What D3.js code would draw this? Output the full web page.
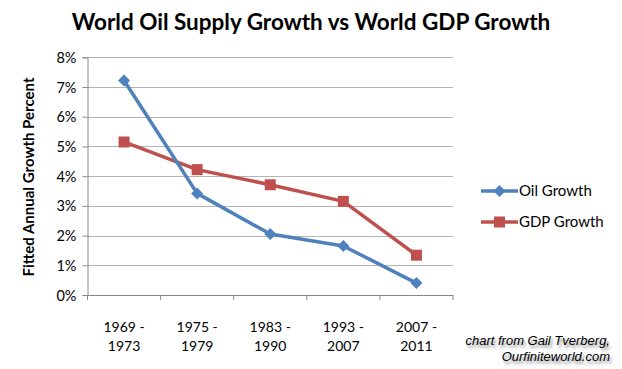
<!DOCTYPE html>
<html><head><meta charset="utf-8">
<script src="https://cdn.jsdelivr.net/npm/d3@7"></script>
<style>body{margin:0;background:#fff}svg{display:block}</style>
</head><body>
<svg id="c" width="622" height="369"></svg>
<script>
const categories = [["1969 -","1973"],["1975 -","1979"],["1983 -","1990"],["1993 -","2007"],["2007 -","2011"]];
const oilGrowth = [7.22, 3.42, 2.05, 1.65, 0.40];
const gdpGrowth = [5.15, 4.22, 3.71, 3.15, 1.34];
const yTicks = [0,1,2,3,4,5,6,7,8];
const seriesNames = ["Oil Growth","GDP Growth"];

const svg = d3.select("#c");
const font = "Lato, 'Open Sans', sans-serif";
const x0 = 87.5, x1 = 453, yTop = 57.3, yBot = 295;
const x = d3.scaleBand().domain(d3.range(categories.length)).range([x0, x1]);
const y = d3.scaleLinear().domain([0,8]).range([yBot, yTop]);
const cx = i => x(i) + x.bandwidth()/2;

// title
svg.append("text").attr("x", 311).attr("y", 30).attr("text-anchor","middle")
  .attr("font-family", font).attr("font-weight","bold").attr("font-size", 22.5).attr("fill","#000")
  .text("World Oil Supply Growth vs World GDP Growth");

// gridlines
svg.append("g").selectAll("line").data(yTicks.filter(d=>d>0)).join("line")
  .attr("x1", x0).attr("x2", x1).attr("y1", d=>Math.round(y(d))+0.5).attr("y2", d=>Math.round(y(d))+0.5)
  .attr("stroke","#b3b3b3").attr("stroke-width",1);

// y axis
const yAxis = d3.axisLeft(y).tickValues(yTicks).tickFormat(d=>d+"%").tickSize(5).tickPadding(6);
const gy = svg.append("g").attr("transform",`translate(${x0},0)`).call(yAxis);
gy.select(".domain").attr("stroke","#8a8a8a");
gy.selectAll(".tick line").attr("stroke","#8a8a8a");
gy.selectAll("text").attr("font-family", font).attr("font-size", 14.5).attr("fill","#000").attr("dy","0.35em");

// x axis
const xAxis = d3.axisBottom(x).tickSize(0).tickFormat("");
const gx = svg.append("g").attr("transform",`translate(0,${yBot})`).call(xAxis);
gx.select(".domain").attr("stroke","#8a8a8a");
gx.selectAll(".tick").remove();
const bounds = d3.range(categories.length+1).map(i => i < categories.length ? x(i) : x1);
gx.selectAll("line.tk").data(bounds).join("line").attr("class","tk")
  .attr("x1", d=>d).attr("x2", d=>d).attr("y1",0).attr("y2",5).attr("stroke","#8a8a8a");
const xl = svg.append("g").selectAll("text").data(categories).join("text")
  .attr("x",(d,i)=>cx(i)).attr("y",332).attr("text-anchor","middle")
  .attr("font-family", font).attr("font-size", 14).attr("fill","#000");
xl.append("tspan").attr("x",(d,i)=>cx(i)).text(d=>d[0]);
xl.append("tspan").attr("x",(d,i)=>cx(i)).attr("dy",19).text(d=>d[1]);

// y title
svg.append("text").attr("transform","translate(34,177) rotate(-90)").attr("text-anchor","middle")
  .attr("font-family", font).attr("font-weight","bold").attr("font-size", 15).attr("fill","#000")
  .text("Fitted Annual Growth Percent");

const blue = "#4F81BD", red = "#C0504D";
const line = d3.line().x((d,i)=>cx(i)).y(d=>y(d));
svg.append("path").datum(gdpGrowth).attr("d", line).attr("fill","none").attr("stroke",red).attr("stroke-width",3.5).attr("stroke-linejoin","round");
svg.append("path").datum(oilGrowth).attr("d", line).attr("fill","none").attr("stroke",blue).attr("stroke-width",3.5).attr("stroke-linejoin","round");

const sq = d3.symbol().type(d3.symbolSquare).size(121);
const dia = d3.symbol().type(d3.symbolSquare).size(72);
svg.append("g").selectAll("path").data(gdpGrowth).join("path")
  .attr("d", sq).attr("transform",(d,i)=>`translate(${cx(i)},${y(d)})`).attr("fill",red);
svg.append("g").selectAll("path").data(oilGrowth).join("path")
  .attr("d", dia).attr("transform",(d,i)=>`translate(${cx(i)},${y(d)}) rotate(45)`).attr("fill",blue);

// legend
const leg = [{n:seriesNames[0], c:blue, s:dia, r:45, y:191},{n:seriesNames[1], c:red, s:sq, r:0, y:222}];
const lg = svg.append("g");
leg.forEach(l=>{
  lg.append("line").attr("x1",481).attr("x2",518).attr("y1",l.y).attr("y2",l.y).attr("stroke",l.c).attr("stroke-width",3.5);
  lg.append("path").attr("d",l.s).attr("transform",`translate(499.5,${l.y}) rotate(${l.r})`).attr("fill",l.c);
  lg.append("text").attr("x",519).attr("y",l.y).attr("dy","0.35em").attr("font-family",font).attr("font-size",15).attr("fill","#000").text(l.n);
});

// credit
const cr = svg.append("g").attr("font-family","'Liberation Sans', Arial, sans-serif").attr("font-style","italic")
  .attr("font-size",13).attr("text-anchor","end").attr("fill","#000")
  .style("text-shadow","2px 3px 3px rgba(0,0,0,0.45)");
cr.append("text").attr("x",610).attr("y",345).text("chart from Gail Tverberg,");
cr.append("text").attr("x",610).attr("y",361).text("Ourfiniteworld.com");
</script>
</body></html>
